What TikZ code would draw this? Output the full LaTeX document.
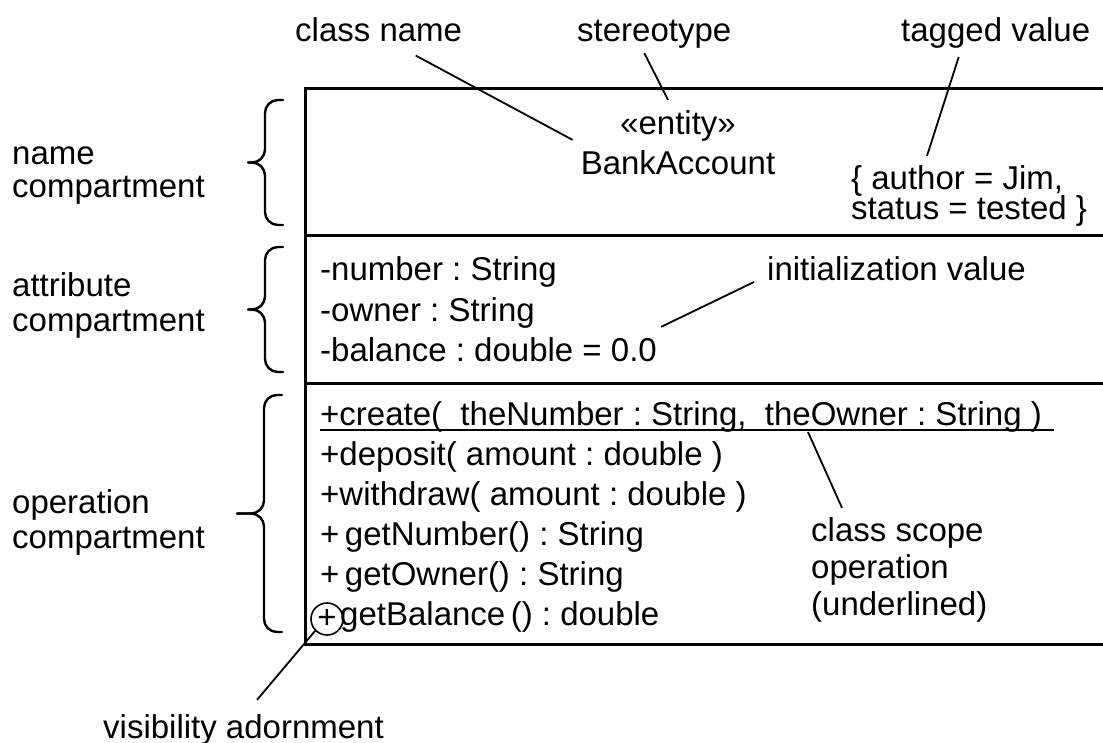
\documentclass[tikz,border=0pt]{standalone}
\usepackage{fontspec}
\setmainfont{Liberation Sans}
\usetikzlibrary{positioning}

\begin{document}
\begin{tikzpicture}[x=1pt,y=-1pt,
	every node/.style={inner sep=0pt,anchor=base west,font=\fontsize{33}{40}\selectfont\frenchspacing},
	lead/.style={line width=1.8pt},
	box/.style={line width=3pt},
	curly/.style={line width=2.4pt,rounded corners=13pt,line cap=round}]

\useasboundingbox (0,0) rectangle (1103,743);

\newcommand{\curl}[5]{
	\draw[curly] (#1,#2) -- (#4,#2) -- (#4,{(#2+#3)/2}) -- (#5,{(#2+#3)/2});
	\draw[curly] (#1,#3) -- (#4,#3) -- (#4,{(#2+#3)/2}) -- (#5,{(#2+#3)/2});
}

\draw[box] (1103,89) -| (305,644) -- (1103,644);
\draw[box] (305,236) -- (1103,236);
\draw[box] (305,383) -- (1103,383);

\curl{283}{100}{225}{265}{248}
\curl{283}{247}{372}{265}{248}
\curl{282}{395}{632}{264}{237}

\node (l1) at (12,165) {name};
\node (l2) [below=33pt of l1.base west,anchor=base west] {compartment};
\node (l3) at (12,297) {attribute};
\node (l4) [below=34pt of l3.base west,anchor=base west] {compartment};
\node (l5) at (12,513) {operation};
\node (l6) [below=35pt of l5.base west,anchor=base west] {compartment};

\node (cn) at (295,42) {class name};
\node (st) at (577,42) {stereotype};
\node (tv) at (901,42) {tagged value};

\node (en) [anchor=base] at (678,135) {«entity»};
\node (ba) [below=40pt of en.base,anchor=base] {BankAccount};
\node (tg1) at (851,190) {\{ author = Jim,};
\node (tg2) [below=30pt of tg1.base west,anchor=base west] {status = tested \}};

\foreach[count=\c] \s in {-number : String,-owner : String,-balance : double = 0.0}{
	\node (a\c) at (320,241+40*\c) {\s};
}
\node (iv) at (767,281) {initialization value};

\node (o1) at (320,425) {+create(\ \ theNumber : String,\ \ theOwner : String )};
\foreach[count=\c from 2] \s in {+deposit( amount : double ),+withdraw( amount : double ),+\,getNumber() : String,+\,getOwner() : String}{
	\node (o\c) at (320,385+40*\c) {\s};
}
\node (vis) [circle,draw,line width=1.6pt,minimum size=32pt,anchor=center] at (327,619) {+};
\node (o6) at (340,625) {getBalance\,() : double};

\node (cs1) at (811,541) {class scope};
\node (cs2) [below=37pt of cs1.base west,anchor=base west] {operation};
\node (cs3) [below=37pt of cs2.base west,anchor=base west] {(underlined)};
\node (va) at (103,738) {visibility adornment};

\draw[lead] ([yshift=-5pt]o1.base west) -- ++(734,0);

\draw[lead] ([shift={(37,13)}]cn.south) -- ([shift={(-8,-11)}]ba.north west);
\draw[lead] ([shift={(-10,4)}]st.south) -- ([shift={(-10,-11)}]en.north);
\draw[lead] ([shift={(-37,8)}]tv.south) -- ([shift={(76,-10)}]tg1.north west);
\draw[lead] ([shift={(-13,1)}]iv.base west) -- ([shift={(4,-10)}]a3.north east);
\draw[lead] ([shift={(488,7)}]o1.base west) -- ([shift={(31,-9)}]cs1.north west);
\draw[lead] (vis.225) -- ([shift={(154,-14)}]va.north west);

\end{tikzpicture}
\end{document}
